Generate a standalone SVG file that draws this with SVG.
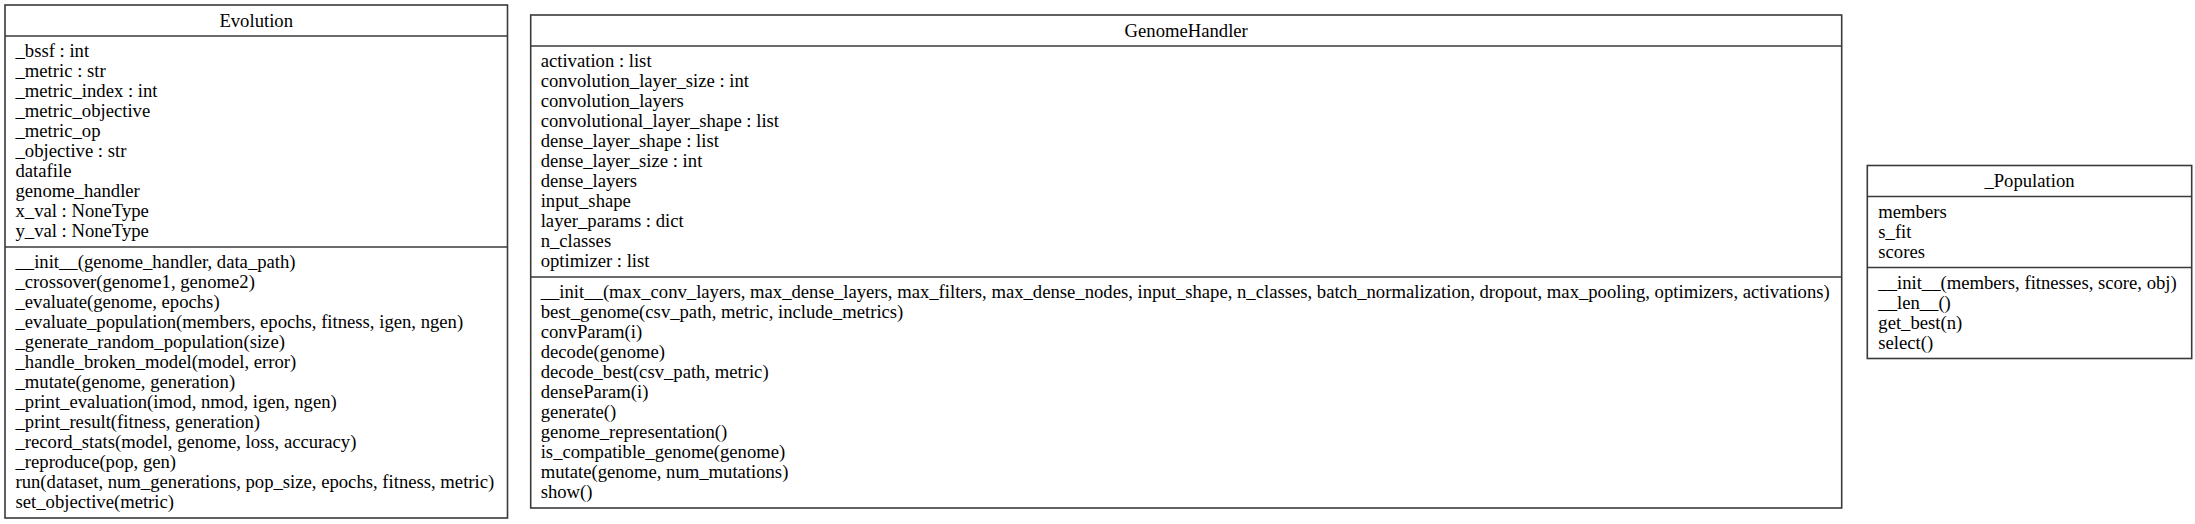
<svg xmlns="http://www.w3.org/2000/svg" width="2195" height="524" viewBox="0 0 2195 524">
<style>
.box{fill:#fff;stroke:#3a3a3a;stroke-width:1.6}
.sep{stroke:#3a3a3a;stroke-width:1.6}
.t{font-family:"Liberation Serif","Times New Roman",serif;font-size:18.67px;fill:#000}
.c{text-anchor:middle}
</style>
<rect width="2195" height="524" fill="#fff"/>
<g id="Evolution">
<rect class="box" x="5" y="5" width="502.5" height="513"/>
<line class="sep" x1="5" y1="36" x2="507.5" y2="36"/>
<line class="sep" x1="5" y1="247" x2="507.5" y2="247"/>
<text class="t c" x="256.2" y="26.5">Evolution</text>
<text class="t" x="15.5" y="57.2"><tspan x="15.5">_bssf : int</tspan><tspan x="15.5" dy="20">_metric : str</tspan><tspan x="15.5" dy="20">_metric_index : int</tspan><tspan x="15.5" dy="20">_metric_objective</tspan><tspan x="15.5" dy="20">_metric_op</tspan><tspan x="15.5" dy="20">_objective : str</tspan><tspan x="15.5" dy="20">datafile</tspan><tspan x="15.5" dy="20">genome_handler</tspan><tspan x="15.5" dy="20">x_val : NoneType</tspan><tspan x="15.5" dy="20">y_val : NoneType</tspan></text>
<text class="t" x="15.5" y="268.2"><tspan x="15.5">__init__(genome_handler, data_path)</tspan><tspan x="15.5" dy="20">_crossover(genome1, genome2)</tspan><tspan x="15.5" dy="20">_evaluate(genome, epochs)</tspan><tspan x="15.5" dy="20">_evaluate_population(members, epochs, fitness, igen, ngen)</tspan><tspan x="15.5" dy="20">_generate_random_population(size)</tspan><tspan x="15.5" dy="20">_handle_broken_model(model, error)</tspan><tspan x="15.5" dy="20">_mutate(genome, generation)</tspan><tspan x="15.5" dy="20">_print_evaluation(imod, nmod, igen, ngen)</tspan><tspan x="15.5" dy="20">_print_result(fitness, generation)</tspan><tspan x="15.5" dy="20">_record_stats(model, genome, loss, accuracy)</tspan><tspan x="15.5" dy="20">_reproduce(pop, gen)</tspan><tspan x="15.5" dy="20">run(dataset, num_generations, pop_size, epochs, fitness, metric)</tspan><tspan x="15.5" dy="20">set_objective(metric)</tspan></text>
</g>
<g id="GenomeHandler">
<rect class="box" x="530.7" y="15" width="1311" height="493"/>
<line class="sep" x1="530.7" y1="46" x2="1841.7" y2="46"/>
<line class="sep" x1="530.7" y1="277" x2="1841.7" y2="277"/>
<text class="t c" x="1186.2" y="36.5">GenomeHandler</text>
<text class="t" x="540.7" y="67"><tspan x="540.7">activation : list</tspan><tspan x="540.7" dy="20">convolution_layer_size : int</tspan><tspan x="540.7" dy="20">convolution_layers</tspan><tspan x="540.7" dy="20">convolutional_layer_shape : list</tspan><tspan x="540.7" dy="20">dense_layer_shape : list</tspan><tspan x="540.7" dy="20">dense_layer_size : int</tspan><tspan x="540.7" dy="20">dense_layers</tspan><tspan x="540.7" dy="20">input_shape</tspan><tspan x="540.7" dy="20">layer_params : dict</tspan><tspan x="540.7" dy="20">n_classes</tspan><tspan x="540.7" dy="20">optimizer : list</tspan></text>
<text class="t" x="540.7" y="298.2"><tspan x="540.7">__init__(max_conv_layers, max_dense_layers, max_filters, max_dense_nodes, input_shape, n_classes, batch_normalization, dropout, max_pooling, optimizers, activations)</tspan><tspan x="540.7" dy="20">best_genome(csv_path, metric, include_metrics)</tspan><tspan x="540.7" dy="20">convParam(i)</tspan><tspan x="540.7" dy="20">decode(genome)</tspan><tspan x="540.7" dy="20">decode_best(csv_path, metric)</tspan><tspan x="540.7" dy="20">denseParam(i)</tspan><tspan x="540.7" dy="20">generate()</tspan><tspan x="540.7" dy="20">genome_representation()</tspan><tspan x="540.7" dy="20">is_compatible_genome(genome)</tspan><tspan x="540.7" dy="20">mutate(genome, num_mutations)</tspan><tspan x="540.7" dy="20">show()</tspan></text>
</g>
<g id="Population">
<rect class="box" x="1867.3" y="165.5" width="324.4" height="193"/>
<line class="sep" x1="1867.3" y1="196.5" x2="2191.7" y2="196.5"/>
<line class="sep" x1="1867.3" y1="267.5" x2="2191.7" y2="267.5"/>
<text class="t c" x="2029.5" y="187">_Population</text>
<text class="t" x="1878.3" y="217.7"><tspan x="1878.3">members</tspan><tspan x="1878.3" dy="20">s_fit</tspan><tspan x="1878.3" dy="20">scores</tspan></text>
<text class="t" x="1878.3" y="288.7"><tspan x="1878.3">__init__(members, fitnesses, score, obj)</tspan><tspan x="1878.3" dy="20">__len__()</tspan><tspan x="1878.3" dy="20">get_best(n)</tspan><tspan x="1878.3" dy="20">select()</tspan></text>
</g>
<g id="connectors"></g>
</svg>
